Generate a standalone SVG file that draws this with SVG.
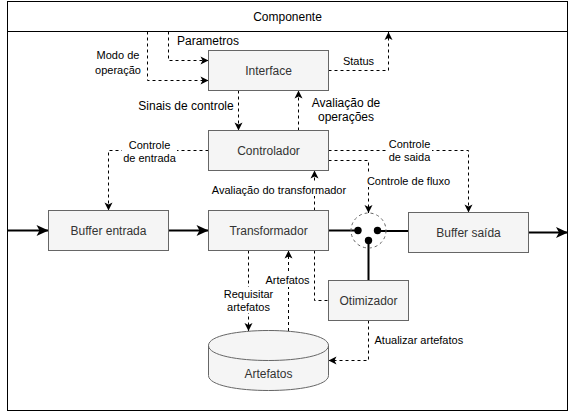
<svg xmlns="http://www.w3.org/2000/svg" width="579" height="412" viewBox="0 0 579 412">
<defs>
<style>
.box{fill:#f5f5f5;stroke:#666666;stroke-width:1}
.bl{font-family:"Liberation Sans",Arial,sans-serif;font-size:12px;fill:#333333;text-anchor:middle;dominant-baseline:central}
.el{font-family:"Liberation Sans",Arial,sans-serif;font-size:11px;fill:#000;text-anchor:middle;dominant-baseline:central}
.el12{font-size:12px}
.dash{fill:none;stroke:#000;stroke-width:1;stroke-dasharray:3 3}
.thick{fill:none;stroke:#000;stroke-width:2}
.bg{fill:#fff;stroke:none}
</style>
<marker id="a" viewBox="-9 -5 10 10" refX="0" refY="0" markerWidth="10" markerHeight="10" markerUnits="userSpaceOnUse" orient="auto">
<path d="M0,0 L-8,-4 L-6,0 L-8,4 Z" fill="#000"/>
</marker>
<marker id="A" viewBox="-13 -7 14 14" refX="0" refY="0" markerWidth="14" markerHeight="14" markerUnits="userSpaceOnUse" orient="auto">
<path d="M0,0 L-12,-5.5 L-9,0 L-12,5.5 Z" fill="#000"/>
</marker>
</defs>

<g id="componente">
<rect x="7.5" y="1.5" width="560" height="409" fill="#fff" stroke="#000" stroke-width="1"/>
<line x1="7.5" y1="31.5" x2="567.5" y2="31.5" stroke="#000" stroke-width="1"/>
<text x="287.5" y="16.5" class="bl" style="fill:#000">Componente</text>
</g>

<g id="connectors">
<path class="dash" d="M168.5,31.5 V60.5 H208.5" marker-end="url(#a)"/>
<path class="dash" d="M147.5,31.5 V80.5 H208.5" marker-end="url(#a)"/>
<path class="dash" d="M328.5,70.5 H388.5 V32" marker-end="url(#a)"/>
<path class="dash" d="M238.5,90.5 V130.5" marker-end="url(#a)"/>
<path class="dash" d="M298.5,130.5 V90.5" marker-end="url(#a)"/>
<path class="dash" d="M208.5,150.5 H108.5 V210.5" marker-end="url(#a)"/>
<path class="dash" d="M328.5,150.5 H468.5 V212.5" marker-end="url(#a)"/>
<path class="dash" d="M328.5,160.5 H368.5 V213" marker-end="url(#a)"/>
<path class="dash" d="M314.5,210.5 V170.5" marker-end="url(#a)"/>
<path class="dash" d="M248.5,250.5 V331" marker-end="url(#a)"/>
<path class="dash" d="M288.5,331 V250.5" marker-end="url(#a)"/>
<path class="dash" d="M314.5,250.5 V300.5 H328.5"/>
<path class="dash" d="M368.5,320.5 V360.5 H328.5" marker-end="url(#a)"/>

<path class="thick" d="M7.5,230.5 H48.5" marker-end="url(#A)"/>
<path class="thick" d="M168.5,230.5 H208.5" marker-end="url(#A)"/>
<path class="thick" d="M528.5,232.5 H568" marker-end="url(#A)"/>
<path class="thick" d="M328.5,230.5 H358"/>
<path class="thick" d="M377.5,231 H408.5"/>
<path class="thick" d="M368.5,240.5 V280.5"/>

<rect class="bg" x="122" y="139" width="55" height="25"/>
<text class="el" x="149.5" y="144.5">Controle</text>
<text class="el" x="149.5" y="157.5">de entrada</text>

<rect class="bg" x="388" y="138" width="44" height="25"/>
<text class="el" x="409.5" y="144">Controle</text>
<text class="el" x="409.5" y="156.5">de saida</text>

<rect class="bg" x="366" y="174" width="86" height="13"/>
<text class="el" x="408.5" y="180.5">Controle de fluxo</text>

<rect class="bg" x="211" y="183" width="137" height="13"/>
<text class="el" x="279" y="189.5">Avaliação do transformador</text>

<rect class="bg" x="222" y="287" width="53" height="26"/>
<text class="el" x="248.5" y="294">Requisitar</text>
<text class="el" x="248.5" y="306.5">artefatos</text>

<rect class="bg" x="265" y="274" width="46" height="13"/>
<text class="el" x="287.5" y="280">Artefatos</text>

<text class="el" x="118" y="55">Modo de</text>
<text class="el" x="118" y="70">operação</text>
<text class="el el12" x="177" y="40.7" style="text-anchor:start">Parametros</text>
<text class="el" x="358.5" y="60.7">Status</text>
<text class="el el12" x="186" y="106">Sinais de controle</text>
<text class="el el12" x="346" y="103.3">Avaliação de</text>
<text class="el el12" x="346" y="116.7">operações</text>
<text class="el" x="374.5" y="340" style="text-anchor:start">Atualizar artefatos</text>
</g>

<g id="junction">
<circle cx="368.5" cy="230.5" r="17.5" fill="none" stroke="#666666" stroke-width="1" stroke-dasharray="3 3"/>
<circle cx="358" cy="230.5" r="3.7" fill="#000"/>
<circle cx="377.5" cy="230.5" r="3.7" fill="#000"/>
<circle cx="368.5" cy="240.5" r="3.7" fill="#000"/>
</g>

<g id="interface">
<rect class="box" x="208.5" y="50.5" width="120" height="40"/>
<text class="bl" x="268.5" y="70.5">Interface</text>
</g>
<g id="controlador">
<rect class="box" x="208.5" y="130.5" width="120" height="40"/>
<text class="bl" x="268.5" y="150.5">Controlador</text>
</g>
<g id="buffer-entrada">
<rect class="box" x="48.5" y="210.5" width="120" height="40"/>
<text class="bl" x="108.5" y="230.5">Buffer entrada</text>
</g>
<g id="transformador">
<rect class="box" x="208.5" y="210.5" width="120" height="40"/>
<text class="bl" x="268.5" y="230.5">Transformador</text>
</g>
<g id="buffer-saida">
<rect class="box" x="408.5" y="212.5" width="120" height="40"/>
<text class="bl" x="468.5" y="232.5">Buffer saída</text>
</g>
<g id="otimizador">
<rect class="box" x="328.5" y="280.5" width="80" height="40"/>
<text class="bl" x="368.5" y="300.5">Otimizador</text>
</g>
<g id="artefatos">
<path class="box" d="M208.5,345.5 C208.5,325.5 328.5,325.5 328.5,345.5 L328.5,375.5 C328.5,395.5 208.5,395.5 208.5,375.5 Z"/>
<path d="M208.5,345.5 C208.5,365.5 328.5,365.5 328.5,345.5" fill="none" stroke="#666666" stroke-width="1"/>
<text class="bl" x="268.5" y="373.5">Artefatos</text>
</g>
</svg>
